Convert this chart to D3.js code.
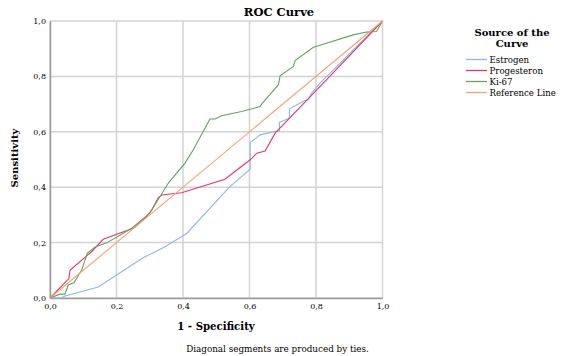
<!DOCTYPE html>
<html>
<head>
<meta charset="utf-8">
<script src="https://cdn.jsdelivr.net/npm/d3@7"></script>
<style>
  body { margin: 0; background: #fff; }
  svg text { font-family: "DejaVu Serif", serif; fill: #000; }
</style>
</head>
<body>
<div id="chart"></div>
<script>
// ROC curve points: [1 - specificity, sensitivity]
var estrogen = [[0, 0], [0.033, 0], [0.045, 0.007], [0.145, 0.04], [0.28, 0.145], [0.346, 0.185],
  [0.411, 0.233], [0.541, 0.402], [0.602, 0.465], [0.602, 0.561], [0.632, 0.589], [0.677, 0.601],
  [0.69, 0.604], [0.69, 0.634], [0.707, 0.643], [0.72, 0.65], [0.72, 0.682], [0.762, 0.71],
  [0.777, 0.716], [0.787, 0.74], [0.812, 0.776], [1, 1]];
var progesteron = [[0, 0], [0.057, 0.07], [0.06, 0.1], [0.125, 0.167], [0.16, 0.212], [0.25, 0.252],
  [0.286, 0.288], [0.306, 0.318], [0.326, 0.3625], [0.336, 0.372], [0.396, 0.38], [0.526, 0.429],
  [0.602, 0.499], [0.622, 0.523], [0.647, 0.531], [0.677, 0.595], [0.832, 0.788], [1, 1]];
var ki67 = [[0, 0], [0.03, 0.014], [0.045, 0.014], [0.055, 0.047], [0.072, 0.055], [0.095, 0.1],
  [0.112, 0.161], [0.135, 0.183], [0.172, 0.2], [0.246, 0.252], [0.3, 0.306], [0.356, 0.415],
  [0.406, 0.487], [0.431, 0.535], [0.481, 0.646], [0.496, 0.646], [0.516, 0.658], [0.576, 0.673],
  [0.632, 0.691], [0.637, 0.701], [0.687, 0.77], [0.692, 0.802], [0.732, 0.836], [0.737, 0.857],
  [0.792, 0.905], [0.807, 0.911], [0.912, 0.95], [0.952, 0.96], [0.982, 0.962], [1, 1]];
var reference = [[0, 0], [1, 1]];

var seriesNames = ['Estrogen', 'Progesteron', 'Ki-67', 'Reference Line'];
var seriesColors = ['#8db6ec', '#e03a68', '#62a45c', '#f5a272'];
var ticks = [0, 0.2, 0.4, 0.6, 0.8, 1.0];

var width = 562
  , height = 356
  , margin = {top: 21, left: 50, right: 180, bottom: 58};

var x = d3.scaleLinear().domain([0, 1]).range([margin.left, width - margin.right + 0.5]);
var y = d3.scaleLinear().domain([0, 1]).range([height - margin.bottom, margin.top]);
var fmt = function(d) { return d3.format('.1f')(d).replace('.', ','); };

var svg = d3.select('#chart').append('svg')
  .attr('width', width)
  .attr('height', height);

// grid
svg.append('g').selectAll('line').data(ticks).enter().append('line')
  .attr('x1', function(d) { return x(d); }).attr('x2', function(d) { return x(d); })
  .attr('y1', y(0)).attr('y2', y(1))
  .attr('stroke', '#d3d3d3').attr('stroke-width', 1.5);
svg.append('g').selectAll('line').data(ticks).enter().append('line')
  .attr('y1', function(d) { return y(d); }).attr('y2', function(d) { return y(d); })
  .attr('x1', x(0)).attr('x2', x(1))
  .attr('stroke', '#d3d3d3').attr('stroke-width', 1.5);

// axes
var xAxis = svg.append('g')
  .attr('transform', 'translate(0,' + y(0) + ')')
  .call(d3.axisBottom(x).tickValues(ticks).tickFormat(fmt).tickSize(0).tickPadding(5));
var yAxis = svg.append('g')
  .attr('transform', 'translate(' + x(0) + ',0)')
  .call(d3.axisLeft(y).tickValues(ticks).tickFormat(fmt).tickSize(0).tickPadding(4));
[xAxis, yAxis].forEach(function(a) {
  a.select('.domain').attr('stroke', '#9a9a9a').attr('stroke-width', 1.5);
  a.selectAll('text').style('font-family', '"DejaVu Serif", serif').style('font-size', '8px');
});

// curves
var line = d3.line().x(function(d) { return x(d[0]); }).y(function(d) { return y(d[1]); });
[estrogen, progesteron, ki67, reference].forEach(function(s, i) {
  svg.append('path')
    .datum(s)
    .attr('d', line)
    .attr('fill', 'none')
    .attr('stroke', seriesColors[i])
    .attr('stroke-width', 1.1);
});

// titles
svg.append('text').attr('x', 279).attr('y', 16).attr('text-anchor', 'middle')
  .style('font-size', '11.5px').style('font-weight', 'bold').text('ROC Curve');
svg.append('text').attr('x', 216).attr('y', 330).attr('text-anchor', 'middle')
  .style('font-size', '10.2px').style('font-weight', 'bold').text('1 - Specificity');
svg.append('text').attr('transform', 'translate(18,158) rotate(-90)').attr('text-anchor', 'middle')
  .style('font-size', '10px').style('font-weight', 'bold').text('Sensitivity');
svg.append('text').attr('x', 277.5).attr('y', 352).attr('text-anchor', 'middle')
  .style('font-size', '8.8px').text('Diagonal segments are produced by ties.');

// legend
var legend = svg.append('g');
legend.append('text').attr('x', 512).attr('y', 36).attr('text-anchor', 'middle')
  .style('font-size', '10px').style('font-weight', 'bold').text('Source of the');
legend.append('text').attr('x', 512).attr('y', 47).attr('text-anchor', 'middle')
  .style('font-size', '10px').style('font-weight', 'bold').text('Curve');
var item = legend.selectAll('g.item').data(seriesNames).enter().append('g')
  .attr('class', 'item')
  .attr('transform', function(d, i) { return 'translate(466,' + (59.5 + i * 11) + ')'; });
item.append('line').attr('x1', 0).attr('x2', 21).attr('y1', 0).attr('y2', 0)
  .attr('stroke', function(d, i) { return seriesColors[i]; }).attr('stroke-width', 1.3);
item.append('text').attr('x', 23.5).attr('y', 3)
  .style('font-size', '8.6px').text(function(d) { return d; });
</script>
</body>
</html>
